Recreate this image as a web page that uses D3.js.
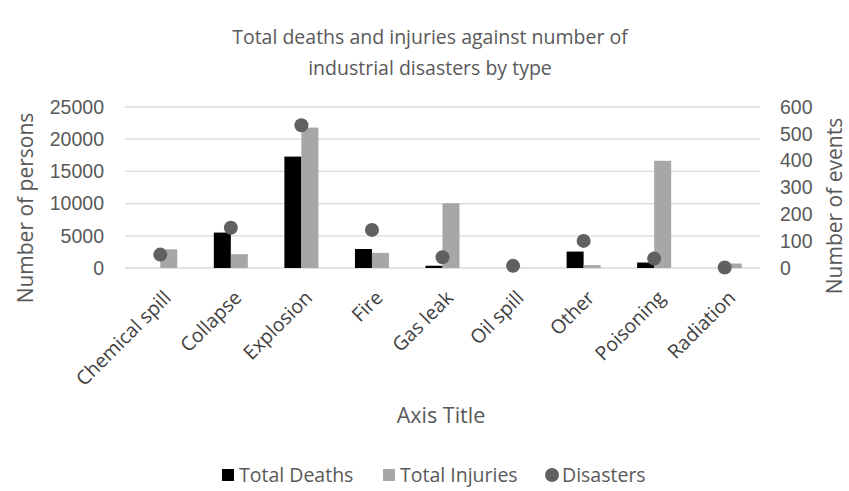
<!DOCTYPE html>
<html>
<head>
<meta charset="utf-8">
<script src="https://cdn.jsdelivr.net/npm/d3@7"></script>
<style>
  body { margin: 0; background: #fff; }
  svg { font-family: "Open Sans", "Noto Sans", sans-serif; }
</style>
</head>
<body>
<div id="chart"></div>
<script>
// chart data
var categories = ["Chemical spill", "Collapse", "Explosion", "Fire", "Gas leak", "Oil spill", "Other", "Poisoning", "Radiation"];
var totalDeaths = [0, 5500, 17300, 2950, 350, 0, 2550, 850, 0];
var totalInjuries = [2900, 2150, 21800, 2350, 10050, 0, 450, 16650, 700];
var disasters = [50, 150, 532, 142, 40, 8, 101, 35, 2];
var leftTicks = [0, 5000, 10000, 15000, 20000, 25000];
var rightTicks = [0, 100, 200, 300, 400, 500, 600];

var width = 849, height = 491;
var plotLeft = 125, plotRight = 760, plotTop = 107, plotBottom = 268;
var textColor = "#595959";

var svg = d3.select("#chart").append("svg").attr("width", width).attr("height", height);

// scales
var x = d3.scaleBand().domain(categories).range([plotLeft, plotRight]);
var inner = d3.scaleBand().domain(["deaths", "injuries"]).range([0, 34]);
var y = d3.scaleLinear().domain([0, 25000]).range([plotBottom, plotTop]);
var y2 = d3.scaleLinear().domain([0, 600]).range([plotBottom, plotTop]);

// gridlines
svg.append("g").selectAll("line").data(leftTicks).enter().append("line")
  .attr("x1", plotLeft).attr("x2", plotRight)
  .attr("y1", function (d) { return y(d); }).attr("y2", function (d) { return y(d); })
  .style("stroke", "#d9d9d9").style("stroke-width", 1.3);

// left axis
var yAxis = svg.append("g").attr("transform", "translate(" + (plotLeft - 21) + ",0)")
  .call(d3.axisLeft(y).tickValues(leftTicks).tickFormat(d3.format("d")).tickSize(0).tickPadding(0));
yAxis.select(".domain").remove();
yAxis.selectAll("text").style("font-size", "19.5px").style("fill", textColor).style("font-family", "inherit");

// right axis
var y2Axis = svg.append("g").attr("transform", "translate(" + (plotRight + 20) + ",0)")
  .call(d3.axisRight(y2).tickValues(rightTicks).tickSize(0).tickPadding(0));
y2Axis.select(".domain").remove();
y2Axis.selectAll("text").style("font-size", "19.5px").style("fill", textColor).style("font-family", "inherit");

// bars
var bars = svg.append("g");
bars.selectAll(".death").data(categories).enter().append("rect")
  .attr("x", function (d) { return x(d) + x.bandwidth() / 2 - 17 + inner("deaths"); })
  .attr("y", function (d, i) { return y(totalDeaths[i]); })
  .attr("width", inner.bandwidth())
  .attr("height", function (d, i) { return plotBottom - y(totalDeaths[i]); })
  .style("fill", "#000");
bars.selectAll(".injury").data(categories).enter().append("rect")
  .attr("x", function (d) { return x(d) + x.bandwidth() / 2 - 17 + inner("injuries"); })
  .attr("y", function (d, i) { return y(totalInjuries[i]); })
  .attr("width", inner.bandwidth())
  .attr("height", function (d, i) { return plotBottom - y(totalInjuries[i]); })
  .style("fill", "#a9a6a6");

// disaster dots
svg.append("g").selectAll("circle").data(categories).enter().append("circle")
  .attr("cx", function (d) { return x(d) + x.bandwidth() / 2; })
  .attr("cy", function (d, i) { return y2(disasters[i]); })
  .attr("r", 7)
  .style("fill", "#606060");

// category labels
svg.append("g").selectAll("text").data(categories).enter().append("text")
  .attr("transform", function (d) { return "translate(" + (x(d) + x.bandwidth() / 2 + 12) + "," + (plotBottom + 31) + ") rotate(-45)"; })
  .attr("text-anchor", "end")
  .style("font-size", "19.5px").style("fill", "#404040")
  .text(function (d) { return d; });

// title
var title = svg.append("text").attr("text-anchor", "middle")
  .style("font-size", "19.5px").style("fill", textColor);
title.append("tspan").attr("x", 430).attr("y", 44).text("Total deaths and injuries against number of");
title.append("tspan").attr("x", 430).attr("y", 75).text("industrial disasters by type");

// axis titles
svg.append("text").attr("transform", "translate(33,208) rotate(-90)")
  .attr("text-anchor", "middle").style("font-size", "21px").style("fill", textColor)
  .text("Number of persons");
svg.append("text").attr("transform", "translate(842,206) rotate(-90)")
  .attr("text-anchor", "middle").style("font-size", "21px").style("fill", textColor)
  .text("Number of events");
svg.append("text").attr("x", 441).attr("y", 423).attr("text-anchor", "middle")
  .style("font-size", "21.5px").style("fill", textColor).text("Axis Title");

// legend
var legendItems = [
  { name: "Total Deaths", color: "#000", shape: "rect", x: 222 },
  { name: "Total Injuries", color: "#a9a6a6", shape: "rect", x: 383 },
  { name: "Disasters", color: "#606060", shape: "circle", x: 545 }
];
var legend = svg.append("g").selectAll("g").data(legendItems).enter().append("g")
  .attr("transform", function (d) { return "translate(" + d.x + ",482)"; });
legend.each(function (d) {
  var g = d3.select(this);
  if (d.shape === "rect") {
    g.append("rect").attr("x", 0).attr("y", -13).attr("width", 12).attr("height", 12).style("fill", d.color);
  } else {
    g.append("circle").attr("cx", 7).attr("cy", -7).attr("r", 7).style("fill", d.color);
  }
  g.append("text").attr("x", 17).attr("y", 0).style("font-size", "19.5px").style("fill", textColor).text(d.name);
});
</script>
</body>
</html>
